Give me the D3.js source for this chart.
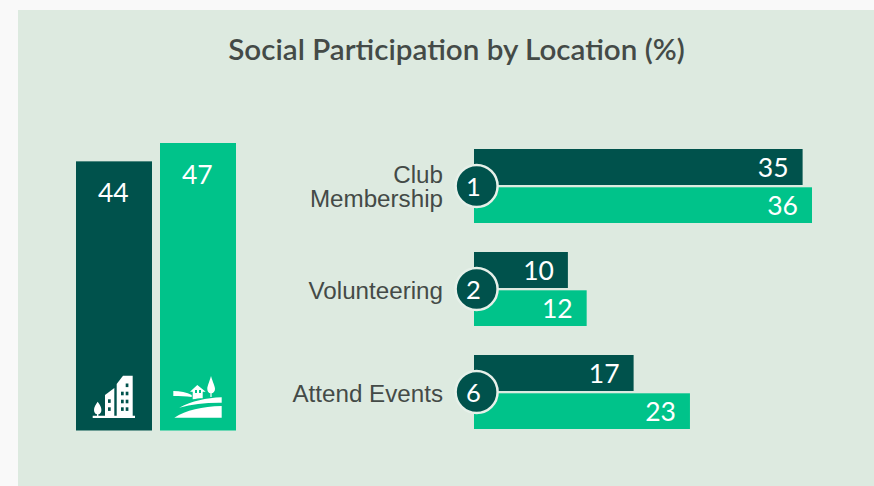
<!DOCTYPE html>
<html><head><meta charset="utf-8">
<script src="https://cdnjs.cloudflare.com/ajax/libs/d3/7.8.5/d3.min.js"></script>
<style>html,body{margin:0;padding:0;background:#f9f9f9;overflow:hidden}svg{display:block}</style>
</head><body><svg id="c" width="874" height="486"></svg>
<script>
const title = "Social Participation by Location (%)";
const locations = ["Urban", "Rural"];
const locationValues = [44, 47];
const categories = [["Club", "Membership"], ["Volunteering"], ["Attend Events"]];
const ranks = [1, 2, 6];
const urbanValues = [35, 10, 17];
const ruralValues = [36, 12, 23];
const DARK = "#00524c", GREEN = "#00c38a", BG = "#ddeae0", TXT = "#444a47";

const svg = d3.select("#c");
svg.append("rect").attr("x", 18).attr("y", 10).attr("width", 856).attr("height", 476).attr("fill", BG);
svg.append("text").attr("x", 456.5).attr("y", 60).attr("text-anchor", "middle")
  .attr("font-family", "Lato").attr("font-weight", 600).attr("font-size", 29.6).attr("fill", TXT).text(title);

// left columns
const xL = d3.scaleBand().domain(locations).range([76, 236]).paddingInner(8 / 84).paddingOuter(0);
const yL = d3.scaleLinear().domain([0, 47]).range([430.5, 143]);
const cols = svg.selectAll("g.col").data(locations).join("g").attr("class", "col");
cols.append("rect").attr("x", d => xL(d)).attr("width", xL.bandwidth())
  .attr("y", (d, i) => yL(locationValues[i])).attr("height", (d, i) => yL(0) - yL(locationValues[i]))
  .attr("fill", (d, i) => i ? GREEN : DARK);
cols.append("text").attr("x", d => xL(d) + xL.bandwidth() / 2 - 0.7).attr("y", (d, i) => yL(locationValues[i]) + 41)
  .attr("text-anchor", "middle").attr("font-family", "Lato").attr("font-size", 26.5).attr("fill", "#fff")
  .text((d, i) => locationValues[i]);

// city icon
const city = svg.append("g").attr("fill", "#fff");
city.append("path").attr("d", "M92.7,415.7 H135 V418 H92.7 Z");
city.append("path").attr("d", "M105,395 L114.3,388 V416 H105 Z");
city.append("path").attr("d", "M116.7,384 L123,375.7 H132.7 V416 H116.7 Z");
city.append("path").attr("d", "M97.7,401.7 C95.5,405 94,407 94,410 C94,412.5 95.5,414.3 97,414.3 V416 H98.4 V414.3 C100,414.3 101.4,412.5 101.4,410 C101.4,407 100,405 97.7,401.7 Z");
const cityWindows = [[108,399.3],[108,407.3],[125.7,383.5],[121,391.7],[125.7,391.7],[121,399.7],[125.7,399.7],[121,407.3],[125.7,407.3]];
city.selectAll("rect").data(cityWindows).join("rect")
  .attr("x", d => d[0]).attr("y", d => d[1]).attr("width", 2.7).attr("height", 3.6).attr("fill", DARK);

// countryside icon
const farm = svg.append("g").attr("fill", "#fff");
farm.append("path").attr("d", "M174.3,417.7 C186,410 202,406.5 221.7,406 V417.7 Z");
farm.append("path").attr("d", "M179.3,407.7 C192,401 206,398 221.7,397.3 V402.7 C206,402.5 192,404 179.3,407.7 Z");
farm.append("path").attr("d", "M173.3,391 C180,391 187,392.5 191.7,395 V397 C186,396 180,396 173.3,396 Z");
farm.append("path").attr("d", "M197.3,385 L205.7,391.7 L202.7,391.7 V398.3 C199,398.3 196,398.8 192.7,399.3 V391.7 L190,391.7 Z");
farm.selectAll("rect").data([195, 199]).join("rect")
  .attr("x", d => d).attr("y", 390).attr("width", 2).attr("height", 3).attr("fill", GREEN);
farm.append("path").attr("d", "M211,376 C209,383 207.3,386 207.3,389 C207.3,391.5 208.8,393.3 210.4,393.3 V397 H211.6 V393.3 C213.2,393.3 215,391.5 215,389 C215,386 213,383 211,376 Z");

// right bars
const x = d3.scaleLinear().domain([0, 36]).range([474, 812]);
const y = d3.scaleBand().domain(d3.range(3)).range([149, 458]);
const rows = svg.selectAll("g.row").data(categories).join("g").attr("class", "row");
rows.append("rect").attr("x", x(0)).attr("y", (d, i) => y(i)).attr("height", 36)
  .attr("width", (d, i) => x(urbanValues[i]) - x(0)).attr("fill", DARK);
rows.append("rect").attr("x", x(0)).attr("y", (d, i) => y(i) + 38.3).attr("height", 35.7)
  .attr("width", (d, i) => x(ruralValues[i]) - x(0)).attr("fill", GREEN);
const vals = (arr, dy) => rows.append("text").attr("x", (d, i) => x(arr[i]) - 14)
  .attr("y", (d, i) => y(i) + dy).attr("text-anchor", "end")
  .attr("font-family", "Lato").attr("font-size", 26.5).attr("fill", "#fff").text((d, i) => arr[i]);
vals(urbanValues, 28); vals(ruralValues, 66);
rows.append("circle").attr("cx", 476.6).attr("cy", (d, i) => y(i) + 37).attr("r", 21)
  .attr("fill", DARK).attr("stroke", "#e6f0e9").attr("stroke-width", 2.5);
rows.append("text").attr("x", 473.5).attr("y", (d, i) => y(i) + 46.5).attr("text-anchor", "middle")
  .attr("font-family", "Lato").attr("font-size", 25.5).attr("fill", "#fff").text((d, i) => ranks[i]);
rows.append("text").attr("text-anchor", "end")
  .attr("font-family", "Liberation Sans").attr("font-size", 24.2).attr("fill", TXT)
  .each(function(d, i) {
    const n = d.length;
    d3.select(this).selectAll("tspan").data(d).join("tspan").attr("x", 443)
      .attr("y", (line, k) => y(i) + (n > 1 ? 46 : 47) + (k - (n - 1) / 2) * 24).text(line => line);
  });
</script></body></html>
